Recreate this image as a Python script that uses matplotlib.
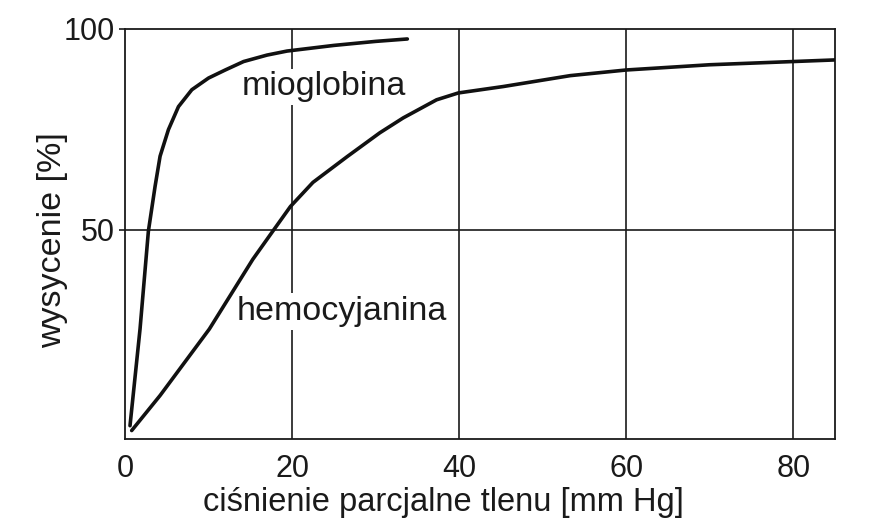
import matplotlib
matplotlib.use("Agg")
import matplotlib.pyplot as plt

plt.rcParams['font.family'] = ['Liberation Sans', 'DejaVu Sans']

# Myoglobin saturation curve
myo_x = [0.6, 1.8, 2.8, 3.6, 4.2, 5.2, 6.4, 8.0, 10.0, 12.0, 14.2, 17.0, 19.4, 25.0, 30.0, 33.8]
myo_y = [1.4, 25.4, 49.7, 60.8, 68.3, 74.9, 80.6, 84.8, 87.7, 89.7, 91.8, 93.4, 94.4, 95.8, 96.8, 97.4]

# Hemocyanin saturation curve
hem_x = [0.8, 4.2, 10.1, 15.3, 17.7, 19.8, 22.5, 26.6, 30.5, 33.3, 37.3, 39.9, 45.3, 53.3, 60.0, 70.0, 80.0, 85.0]
hem_y = [0.2, 8.9, 25.4, 42.7, 49.7, 55.8, 61.8, 68.2, 74.1, 77.8, 82.3, 84.0, 85.6, 88.3, 89.7, 91.0, 91.8, 92.2]

x_ticks = [0, 20, 40, 60, 80]
y_ticks = [50, 100]
x_grid = [20, 40, 60, 80]
y_grid = [50]

fig = plt.figure(figsize=(8.75, 5.25), dpi=100)
ax = fig.add_axes([125/875, 1-439/525, (835-125)/875, (439-28.5)/525])

ax.set_xlim(0, 85)
ax.set_ylim(-1.9, 100)

for gx in x_grid:
    ax.axvline(gx, color='#1a1a1a', lw=1.2, zorder=1)
for gy in y_grid:
    ax.axhline(gy, color='#1a1a1a', lw=1.2, zorder=1)

ax.plot(myo_x, myo_y, color='#111111', lw=2.6, solid_capstyle='round',
        solid_joinstyle='round', zorder=3)
ax.plot(hem_x, hem_y, color='#111111', lw=2.6, solid_capstyle='round',
        solid_joinstyle='round', zorder=3)

txt_kw = dict(fontsize=24.5, ha='center', va='center', color='#1a1a1a', zorder=4,
              bbox=dict(facecolor='white', edgecolor='none', pad=2))
ax.text(23.8, 85.5, 'mioglobina', **txt_kw)
ax.text(26.0, 29.8, 'hemocyjanina', **txt_kw)

for s in ax.spines.values():
    s.set_linewidth(1.3)
    s.set_color('#1a1a1a')

ax.set_xticks(x_ticks)
ax.set_xticklabels([str(v) for v in x_ticks])
ax.set_yticks(y_ticks)
ax.set_yticklabels([str(v) for v in y_ticks])
ax.tick_params(axis='x', length=0, pad=11, labelsize=22, colors='#1a1a1a')
ax.tick_params(axis='y', length=4, width=1.2, pad=3, labelsize=22, colors='#1a1a1a')

ax.set_xlabel('ciśnienie parcjalne tlenu [mm Hg]', fontsize=23.5, color='#1a1a1a', va='center')
ax.xaxis.set_label_coords((443-125)/710, (439-502)/410.5)
ax.set_ylabel('wysycenie [%]', fontsize=24.5, color='#1a1a1a', va='center')
ax.yaxis.set_label_coords((53-125)/710, (439-240)/410.5)

fig.savefig('out.png', dpi=100, facecolor='white')
